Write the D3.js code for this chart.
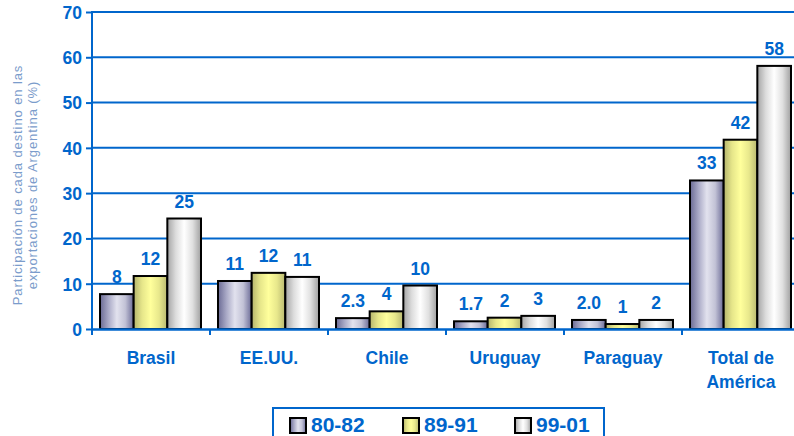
<!DOCTYPE html>
<html><head><meta charset="utf-8">
<script src="https://cdn.jsdelivr.net/npm/d3@7"></script>
<style>body{margin:0;background:#fff}svg{display:block}</style>
</head><body>
<svg id="c" width="794" height="436"></svg>
<script>
const categories = [["Brasil"],["EE.UU."],["Chile"],["Uruguay"],["Paraguay"],["Total de","América"]];
const seriesNames = ["80-82","89-91","99-01"];
const v8082 = [7.7, 10.6, 2.4, 1.7, 2.0, 32.8];
const v8991 = [11.7, 12.4, 3.9, 2.5, 1.1, 41.8];
const v9901 = [24.4, 11.5, 9.6, 2.9, 2.0, 58.1];
const lbl8082 = ["8","11","2.3","1.7","2.0","33"];
const lbl8991 = ["12","12","4","2","1","42"];
const lbl9901 = ["25","11","10","3","2","58"];
const yTicks = [0,10,20,30,40,50,60,70];

const BLUE = "#0066cc";
const FONT = "Liberation Sans, Arial, sans-serif";
const svg = d3.select("#c");
const defs = svg.append("defs");
const grads = [
  [["0%","#6a6a94"],["25%","#a9a9c6"],["50%","#e2e2ee"],["75%","#c2c2d6"],["100%","#6a6a96"]],
  [["0%","#b4b46c"],["25%","#e6e68a"],["50%","#ffff9c"],["75%","#e8e88c"],["100%","#b8b870"]],
  [["0%","#a4a4a4"],["25%","#dcdcdc"],["50%","#ffffff"],["75%","#e0e0e0"],["100%","#a0a0a0"]]
];
grads.forEach((g,i)=>{
  const lg = defs.append("linearGradient").attr("id","g"+i).attr("x1","0").attr("x2","1").attr("y1","0").attr("y2","0");
  g.forEach(s=>lg.append("stop").attr("offset",s[0]).attr("stop-color",s[1]));
});

const x0 = d3.scaleBand().domain(d3.range(categories.length)).range([92,800]).paddingInner(0).paddingOuter(0);
const x1 = d3.scaleBand().domain(d3.range(3)).range([8, x0.bandwidth()-9]).padding(0);
const y = d3.scaleLinear().domain([0,70]).range([329,12]);

// gridlines
svg.append("g").selectAll("line").data(yTicks.slice(1)).join("line")
  .attr("x1",92).attr("x2",794).attr("y1",d=>y(d)).attr("y2",d=>y(d))
  .attr("stroke",BLUE).attr("stroke-width",2);

// y axis
const yAxis = svg.append("g").attr("transform","translate(92,0)")
  .call(d3.axisLeft(y).tickValues(yTicks).tickSize(6).tickPadding(4));
yAxis.select(".domain").attr("stroke",BLUE).attr("stroke-width",2).attr("d","M0,11V330");
yAxis.selectAll(".tick line").attr("stroke",BLUE).attr("stroke-width",2);
yAxis.selectAll(".tick text").attr("fill",BLUE).attr("font-family",FONT)
  .attr("font-weight","bold").attr("font-size",17.5).attr("dy","0.36em");

// bars
const series = [v8082, v8991, v9901];
const labels = [lbl8082, lbl8991, lbl9901];
const data = [];
categories.forEach((c,ci)=>series.forEach((s,si)=>data.push({ci,si,v:s[ci],l:labels[si][ci]})));
svg.append("g").selectAll("rect").data(data).join("rect")
  .attr("x",d=>x0(d.ci)+x1(d.si)).attr("width",x1.bandwidth())
  .attr("y",d=>y(d.v)).attr("height",d=>y(0)-y(d.v))
  .attr("fill",d=>"url(#g"+d.si+")").attr("stroke","#000").attr("stroke-width",2);

svg.append("g").selectAll("text").data(data).join("text")
  .attr("x",d=>x0(d.ci)+x1(d.si)+x1.bandwidth()/2).attr("y",d=>y(d.v)-11)
  .attr("text-anchor","middle").attr("fill",BLUE)
  .attr("font-family",FONT).attr("font-weight","bold").attr("font-size",17.5)
  .text(d=>d.l);

// x axis
const xAxisG = svg.append("g");
xAxisG.append("line").attr("x1",91).attr("x2",794).attr("y1",329.5).attr("y2",329.5).attr("stroke",BLUE).attr("stroke-width",2.5);
xAxisG.selectAll("line.t").data(d3.range(categories.length)).join("line").attr("class","t")
  .attr("x1",d=>x0(d)).attr("x2",d=>x0(d)).attr("y1",329).attr("y2",335)
  .attr("stroke",BLUE).attr("stroke-width",2);
const catText = xAxisG.selectAll("text").data(categories).join("text")
  .attr("x",(d,i)=>x0(i)+x0.bandwidth()/2).attr("y",364)
  .attr("text-anchor","middle").attr("fill",BLUE)
  .attr("font-family",FONT).attr("font-weight","bold").attr("font-size",17.5);
catText.each(function(d){
  const t = d3.select(this);
  d.forEach((line,k)=>t.append("tspan").attr("x",t.attr("x")).attr("dy",k===0?0:24).text(line));
});

// y title
const yt = svg.append("text").attr("transform","translate(0,185) rotate(-90)")
  .attr("text-anchor","middle").attr("fill","#7b9ccb")
  .attr("font-family",FONT).attr("font-size",13).attr("letter-spacing","0.9");
yt.append("tspan").attr("x",0).attr("y",22).text("Participación de cada destino en las");
yt.append("tspan").attr("x",0).attr("y",37).text("exportaciones de Argentina (%)");

// legend
const lg = svg.append("g");
lg.append("rect").attr("x",273).attr("y",408).attr("width",331).attr("height",34)
  .attr("fill","#fff").attr("stroke",BLUE).attr("stroke-width",2);
const lx = [290, 403, 515];
seriesNames.forEach((n,i)=>{
  lg.append("rect").attr("x",lx[i]).attr("y",418).attr("width",16).attr("height",15)
    .attr("fill","url(#g"+i+")").attr("stroke","#000").attr("stroke-width",2);
  lg.append("text").attr("x",lx[i]+21).attr("y",432).attr("fill",BLUE)
    .attr("font-family",FONT).attr("font-weight","bold").attr("font-size",21).text(n);
});
</script>
</body></html>
